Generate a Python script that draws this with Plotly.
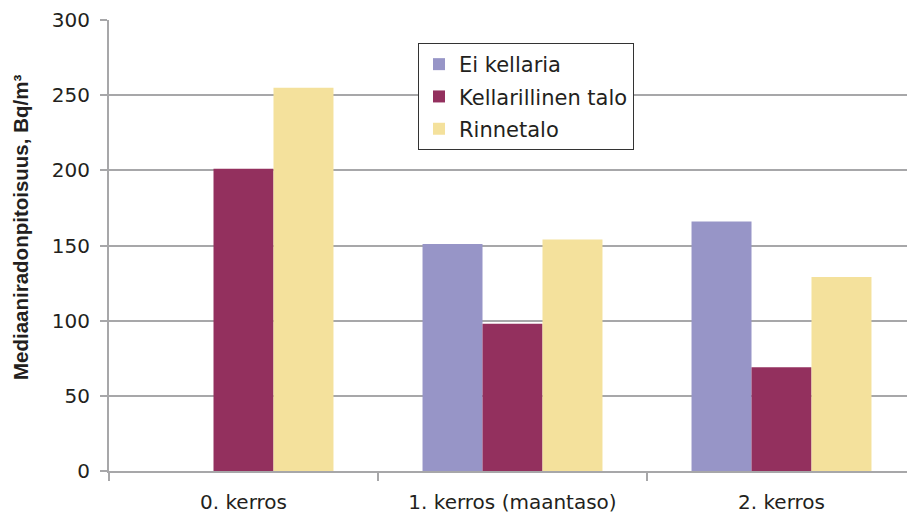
import plotly.graph_objects as go

categories = ["0. kerros", "1. kerros (maantaso)", "2. kerros"]
series_names = ["Ei kellaria", "Kellarillinen talo", "Rinnetalo"]
ei_kellaria = [None, 151, 166]
kellarillinen = [201, 98, 69]
rinnetalo = [255, 154, 129]
y_ticks = [0, 50, 100, 150, 200, 250, 300]
y_title = "Mediaaniradonpitoisuus, Bq/m³"

colors = ["#9795C7", "#93305E", "#F4E19C"]
values = [ei_kellaria, kellarillinen, rinnetalo]

W, H = 907, 517
ml, mr, mt, mb = 109, 0, 20, 46
pw = W - ml - mr
ph = H - mt - mb
cat_px = 269
x_right = -0.5 + pw / cat_px

fig = go.Figure()
for name, vals, col in zip(series_names, values, colors):
    fig.add_trace(go.Bar(name=name, x=categories, y=vals, legendgroup=name,
                         marker=dict(color=col, line=dict(width=0))))

font_family = "DejaVu Sans, Verdana, sans-serif"
text_color = "#231F20"
grid_col = "#A7A7A9"

fig.update_layout(
    width=W, height=H,
    margin=dict(l=ml, r=mr, t=mt, b=mb, pad=0),
    paper_bgcolor="white", plot_bgcolor="white",
    barmode="group", bargap=0.331, bargroupgap=0,
    font=dict(family=font_family, size=20, color=text_color),
    showlegend=True,
    legend=dict(
        x=(418 - ml) / pw, y=(471 - 43) / ph,
        xanchor="left", yanchor="top",
        bgcolor="white", bordercolor="#333333", borderwidth=1,
        font=dict(size=21, color=text_color),
        tracegroupgap=2, itemwidth=30,
    ),
    xaxis=dict(
        type="category", range=[-0.5, x_right],
        tickson="boundaries", ticks="outside", ticklen=8, tickwidth=2, tickcolor=grid_col,
        ticklabelstandoff=12,
        showline=True, linecolor=grid_col, linewidth=2,
        showgrid=False, tickfont=dict(size=20, color=text_color),
        fixedrange=True,
    ),
    yaxis=dict(
        range=[0, 300], tickvals=y_ticks,
        ticks="outside", ticklen=7, tickwidth=2, tickcolor=grid_col,
        ticklabelstandoff=6,
        showline=True, linecolor=grid_col, linewidth=2,
        showgrid=True, gridcolor=grid_col, gridwidth=2,
        zeroline=False, tickfont=dict(size=20, color=text_color),
        fixedrange=True,
    ),
    annotations=[dict(
        text="<b>" + y_title + "</b>", xref="paper", yref="paper",
        x=-(ml - 20) / pw, y=(471 - 228) / ph, xanchor="center", yanchor="middle",
        textangle=-90, showarrow=False,
        font=dict(family="Liberation Sans, Arial, sans-serif", size=20.5, color=text_color),
    )],
)

fig.write_html("out.html", config={"displayModeBar": False},
               post_script="document.body.style.margin='0';document.body.style.overflow='hidden';")
